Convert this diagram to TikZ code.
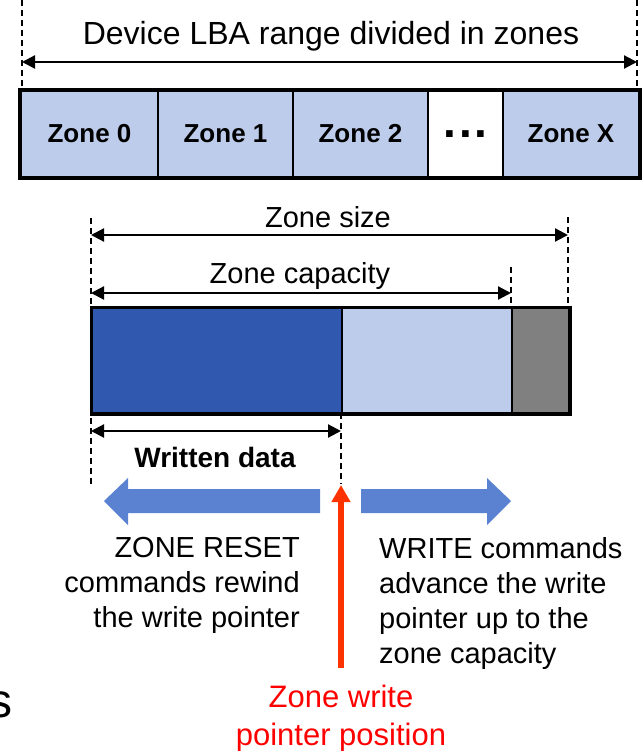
\documentclass[tikz,border=0pt]{standalone}
\usepackage{fontspec}
\setmainfont{Liberation Sans}
\usetikzlibrary{arrows.meta}
\definecolor{cellblue}{HTML}{BDCCEB}
\definecolor{writtenblue}{HTML}{3058AE}
\definecolor{reservegray}{HTML}{808080}
\definecolor{moveblue}{HTML}{5B82D0}
\definecolor{ptrred}{HTML}{FF3300}
\definecolor{ptrtext}{HTML}{FF0000}
\begin{document}
\begin{tikzpicture}[x=1pt,y=-1pt,
  guide/.style={draw=black, line width=1.4pt, dash pattern=on 6pt off 4pt},
  span/.style={draw=black, line width=2.2pt,
    {Triangle[length=13pt,width=13pt]}-{Triangle[length=13pt,width=13pt]}},
  txt/.style={inner sep=0pt, font=\fontsize{29}{35}\selectfont},
  zonecell/.style={draw=black, line width=2pt, fill=cellblue, minimum height=86pt,
    inner sep=0pt, anchor=west, font=\bfseries\fontsize{26}{30}\selectfont},
  zonepart/.style={draw=black, line width=2pt, minimum height=105pt,
    inner sep=0pt, anchor=west},
  ptr/.style={draw=ptrred, line width=6pt, -{Triangle[length=17pt,width=18pt]}},
]
\useasboundingbox (0,0) rectangle (644,751);

% ---- whole device: LBA range split into zones ----
\node[txt, font=\fontsize{32}{36}\selectfont, anchor=base] (devlabel) at (331,45)
  {Device LBA range divided in zones};

\node[zonecell, minimum width=137pt] (z0) at (20,134) {Zone 0};
\node[zonecell, minimum width=135pt] (z1) at (157,134) {Zone 1};
\node[zonecell, minimum width=135pt] (z2) at (292,134) {Zone 2};
\node[zonecell, minimum width=75pt, fill=white,
  font=\bfseries\fontsize{46}{46}\selectfont] (zdots) at (427,134)
  {.\kern3pt.\kern3pt.};
\node[zonecell, minimum width=136pt] (zx) at (502,134) {Zone X};
\draw[line width=4.5pt] (z0.north west) rectangle (zx.south east);

\coordinate (devL0) at (22,0);
\coordinate (devL1) at (22,91);
\coordinate (devR0) at (637,0);
\coordinate (devR1) at (637,91);
\draw[guide] (devL0) -- (devL1);
\draw[guide] (devR0) -- (devR1);
\coordinate (devA) at (22,62);
\coordinate (devB) at (637,62);
\draw[span] (devA) -- (devB);

% ---- a single zone ----
\node[zonepart, minimum width=250pt, fill=writtenblue] (written) at (91,360.5) {};
\node[zonepart, minimum width=170pt, fill=cellblue] (free) at (341,360.5) {};
\node[zonepart, minimum width=57pt, fill=reservegray] (spare) at (511,360.5) {};
\draw[line width=3pt] (written.north west) rectangle (spare.south east);

% dashed extension lines
\coordinate (gA0) at (91,218);
\coordinate (gA1) at (91,484);
\coordinate (gB0) at (568,217);
\coordinate (gB1) at (568,308);
\coordinate (gC0) at (511,267);
\coordinate (gC1) at (511,308);
\coordinate (gD0) at (341,413);
\coordinate (gD1) at (341,484);
\draw[guide] (gA0) -- (gA1);
\draw[guide] (gB0) -- (gB1);
\draw[guide] (gC0) -- (gC1);
\draw[guide] (gD0) -- (gD1);

% dimension arrows
\node[txt, anchor=base] (sizelabel) at (328,227) {Zone size};
\coordinate (sizeA) at (91,235);
\coordinate (sizeB) at (568,235);
\draw[span] (sizeA) -- (sizeB);

\node[txt, anchor=base] (caplabel) at (300,283) {Zone capacity};
\coordinate (capA) at (91,293);
\coordinate (capB) at (511,293);
\draw[span] (capA) -- (capB);

\coordinate (wrA) at (91,431);
\coordinate (wrB) at (341,431);
\draw[span] (wrA) -- (wrB);
\node[txt, font=\bfseries\fontsize{28}{33}\selectfont, anchor=base] (wrlabel) at (215,467)
  {Written data};

% block arrows: reset moves the pointer back, writes move it forward
\fill[moveblue] (104,501) -- (128,478) -- (128,489) -- (320,489) -- (320,513)
  -- (128,513) -- (128,525) -- cycle;
\fill[moveblue] (511,501) -- (487,478) -- (487,489) -- (361,489) -- (361,513)
  -- (487,513) -- (487,525) -- cycle;

% write pointer
\coordinate (ptrbase) at (341,668);
\coordinate (ptrtip) at (341,485);
\draw[ptr] (ptrbase) -- (ptrtip);

\node[txt, anchor=north east, align=right] (resetnote) at (300,537)
  {ZONE RESET\\commands rewind\\the write pointer};
\node[txt, anchor=north west, align=left] (writenote) at (379,537)
  {WRITE commands\\advance the write\\pointer up to the\\zone capacity};
\node[txt, font=\fontsize{31}{38}\selectfont, anchor=north, align=center,
  text=ptrtext] (ptrnote) at (341,685) {Zone write\\pointer position};

\node[inner sep=0pt, anchor=east, font=\fontsize{48}{50}\selectfont] (edge) at (13,705) {s};
\end{tikzpicture}
\end{document}
